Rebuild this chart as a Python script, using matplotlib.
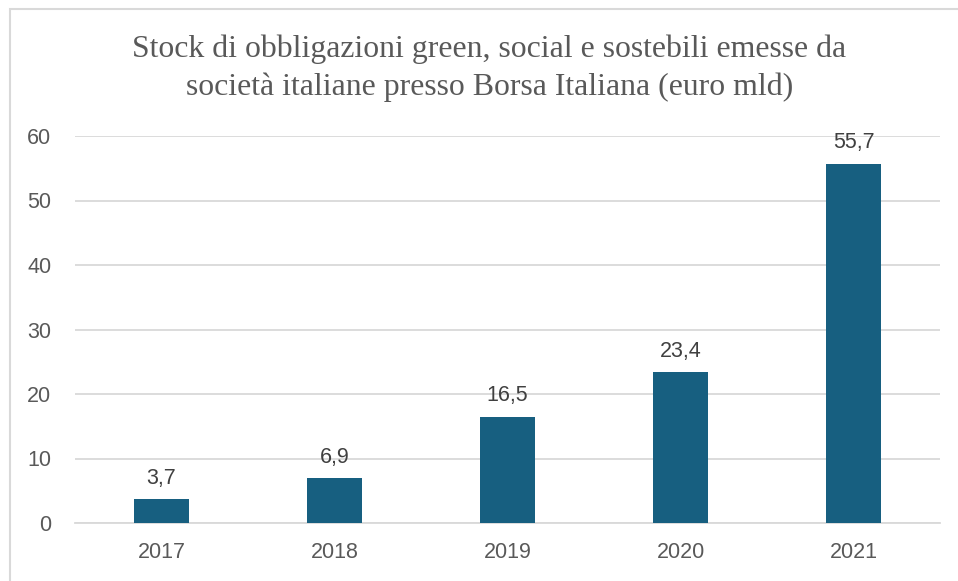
import matplotlib
matplotlib.use("Agg")
import matplotlib.pyplot as plt
from matplotlib.patches import Rectangle

years = ["2017", "2018", "2019", "2020", "2021"]
values = [3.7, 6.9, 16.5, 23.4, 55.7]
labels = ["3,7", "6,9", "16,5", "23,4", "55,7"]
yticks = [0, 10, 20, 30, 40, 50, 60]

title = ("Stock di obbligazioni green, social e sostebili emesse da\n"
         "società italiane presso Borsa Italiana (euro mld)")

bar_color = "#175f80"
text_color = "#595959"
grid_color = "#d9d9d9"

fig = plt.figure(figsize=(9.58, 5.81), dpi=100)
fig.patch.set_facecolor("white")
ax = fig.add_axes([75/958, 1-523/581, (940-75)/958, (523-136)/581])

x = list(range(len(years)))
ax.bar(x, values, width=0.32, color=bar_color, zorder=3)
for xi, v, lab in zip(x, values, labels):
    ax.annotate(lab, (xi, v), xytext=(0, 7.5), textcoords="offset points",
                ha="center", va="bottom", fontsize=15.5, color="#404040",
                family="Liberation Sans", zorder=4)

ax.set_xlim(-0.5, len(years) - 0.5)
ax.set_ylim(0, 60)
ax.set_yticks(yticks)
ax.set_yticklabels([str(t) for t in yticks])
ax.set_xticks(x)
ax.set_xticklabels(years)
ax.yaxis.grid(True, color=grid_color, linewidth=1.3, zorder=0)
ax.set_axisbelow(True)
for s in ax.spines.values():
    s.set_visible(False)
ax.spines["bottom"].set_visible(True)
ax.spines["bottom"].set_color(grid_color)
ax.spines["bottom"].set_linewidth(1.3)
ax.tick_params(axis="both", length=0, labelsize=15.5, labelcolor=text_color)
ax.tick_params(axis="y", pad=17)
ax.tick_params(axis="x", pad=14)
for t in ax.get_xticklabels() + ax.get_yticklabels():
    t.set_family("Liberation Sans")

fig.text(0.511, 0.941, title, ha="center", va="top", fontsize=22.9,
         family="Liberation Serif", color=text_color, linespacing=1.38)

fig.patches.append(Rectangle((10/958, -0.1), 1.2, 1 - 9/581 + 0.1,
                             transform=fig.transFigure, fill=False,
                             edgecolor="#d9d9d9", linewidth=1.5))

fig.savefig("out.png", dpi=100)
